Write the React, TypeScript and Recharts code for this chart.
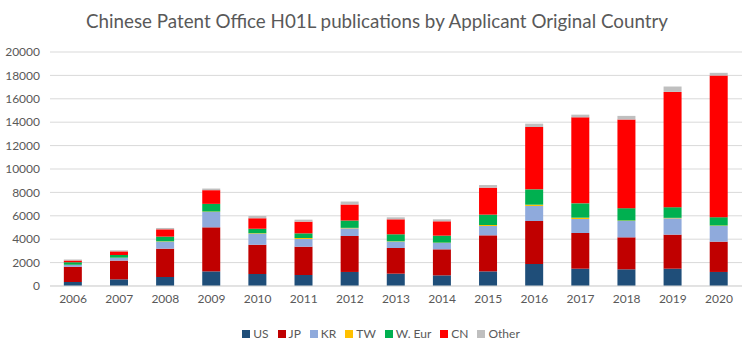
import React from 'react';
import { BarChart, Bar, XAxis, YAxis, CartesianGrid, Legend } from 'recharts';

const years = ['2006', '2007', '2008', '2009', '2010', '2011', '2012', '2013', '2014', '2015', '2016', '2017', '2018', '2019', '2020'];

const us = [350, 570, 770, 1250, 1025, 940, 1200, 1055, 910, 1250, 1880, 1480, 1425, 1480, 1200];
const jp = [1300, 1600, 2420, 3765, 2505, 2420, 3075, 2195, 2225, 3080, 3675, 3050, 2735, 2910, 2590];
const kr = [140, 230, 600, 1310, 945, 655, 655, 540, 540, 800, 1285, 1195, 1395, 1395, 1340];
const tw = [20, 20, 30, 40, 30, 85, 40, 30, 30, 85, 110, 115, 40, 40, 40];
const weur = [220, 230, 400, 655, 395, 400, 625, 600, 600, 885, 1310, 1225, 1055, 910, 710];
const cn = [150, 310, 625, 1170, 885, 1000, 1370, 1280, 1225, 2305, 5330, 7350, 7580, 9855, 12110];
const other = [80, 90, 115, 140, 200, 170, 255, 170, 170, 225, 285, 230, 310, 460, 230];

const yTicks = [0, 2000, 4000, 6000, 8000, 10000, 12000, 14000, 16000, 18000, 20000];

const series = [
  { key: 'US', values: us, color: '#1F4E79' },
  { key: 'JP', values: jp, color: '#C00000' },
  { key: 'KR', values: kr, color: '#8FAADC' },
  { key: 'TW', values: tw, color: '#FFC000' },
  { key: 'W. Eur', values: weur, color: '#00B050' },
  { key: 'CN', values: cn, color: '#FF0000' },
  { key: 'Other', values: other, color: '#BFBFBF' },
];

const data = years.map((year, i) => {
  const row: Record<string, string | number> = { year };
  series.forEach((s) => {
    row[s.key] = s.values[i];
  });
  return row;
});

const font = 'Lato, "Open Sans", sans-serif';
const textColor = '#595959';

// legend in series order (recharts sorts by name otherwise)
const renderLegend = () => (
  <div style={{ height: 35, paddingTop: 12, paddingLeft: 20, boxSizing: 'border-box', display: 'flex', justifyContent: 'center', fontSize: 12, fontFamily: font, color: textColor }}>
    {series.map((s, i) => (
      <span key={s.key} style={{ display: 'inline-flex', alignItems: 'center', marginLeft: i ? 9 : 0, lineHeight: '20px' }}>
        <span style={{ width: 8, height: 8, background: s.color, display: 'inline-block', marginRight: 3 }} />
        {s.key}
      </span>
    ))}
  </div>
);

export default function App() {
  return (
    <div style={{ position: 'absolute', left: 0, top: 0, width: 754, height: 349, background: '#fff', fontFamily: font }}>
      <div
        style={{
          position: 'absolute',
          top: 9,
          left: 0,
          width: 754,
          textAlign: 'center',
          fontSize: 18.8,
          color: textColor,
        }}
      >
        Chinese Patent Office H01L publications by Applicant Original Country
      </div>
      <BarChart
        width={754}
        height={349}
        data={data}
        margin={{ top: 52, right: 12, left: 0, bottom: 4 }}
        barCategoryGap="30%"
      >
        <CartesianGrid vertical={false} stroke="#D9D9D9" />
        <XAxis
          dataKey="year"
          tickLine={false}
          axisLine={{ stroke: '#D9D9D9' }}
          tick={{ fill: textColor, fontSize: 12, fontFamily: font }}
          height={24}
        />
        <YAxis
          ticks={yTicks}
          domain={[0, 20000]}
          interval={0}
          axisLine={false}
          tickLine={false}
          width={50}
          tick={{ fill: textColor, fontSize: 12, fontFamily: font, dx: -2 }}
        />
        <Legend content={renderLegend} height={35} />
        {series.map((s) => (
          <Bar key={s.key} dataKey={s.key} stackId="a" fill={s.color} isAnimationActive={false} />
        ))}
      </BarChart>
    </div>
  );
}
